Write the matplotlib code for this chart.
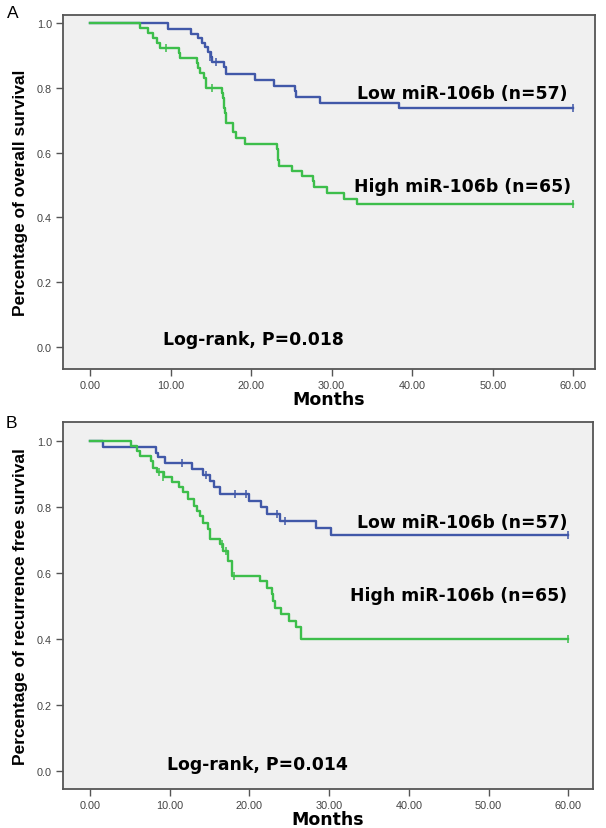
import matplotlib
matplotlib.use("Agg")
import matplotlib.pyplot as plt

plt.rcParams['font.family'] = ['Liberation Sans', 'DejaVu Sans']

# ---------------- data ----------------
# Panel A: overall survival
a_low_t = [0, 9.65, 12.6, 13.45, 13.9, 14.3, 14.6, 15.0, 15.2, 16.6, 16.9, 20.5, 22.8, 25.5, 25.6, 28.5, 38.4, 60]
a_low_s = [1.0, 0.983, 0.967, 0.955, 0.940, 0.925, 0.910, 0.894, 0.879, 0.863, 0.843, 0.825, 0.807, 0.790, 0.772, 0.753, 0.737, 0.737]
a_low_ct = [14.9, 15.6, 60]
a_low_cs = [0.894, 0.879, 0.737]

a_high_t = [0, 6.2, 7.2, 7.8, 8.3, 8.7, 11.0, 11.2, 13.3, 13.45, 13.6, 14.1, 14.4, 14.45,
            16.35, 16.5, 16.6, 16.7, 16.8, 16.9, 17.8, 18.1, 19.3, 23.2, 23.3, 23.4, 23.5,
            25.05, 26.3, 27.7, 27.8, 29.4, 31.5, 33.1, 60]
a_high_s = [1.0, 0.985, 0.969, 0.954, 0.938, 0.923, 0.907, 0.892, 0.876, 0.861, 0.846, 0.830, 0.815, 0.800,
            0.784, 0.768, 0.752, 0.737, 0.721, 0.693, 0.663, 0.645, 0.627, 0.610, 0.594, 0.577, 0.560,
            0.544, 0.528, 0.511, 0.493, 0.475, 0.457, 0.441, 0.441]
a_high_ct = [9.4, 15.2, 60]
a_high_cs = [0.923, 0.800, 0.441]

# Panel B: recurrence free survival
b_low_t = [0, 1.6, 8.3, 8.5, 9.4, 12.75, 14.2, 15.06, 15.5, 16.3, 19.9, 21.5, 22.2, 23.8, 28.4, 30.2, 60]
b_low_s = [1.0, 0.982, 0.965, 0.951, 0.933, 0.915, 0.898, 0.880, 0.860, 0.839, 0.819, 0.799, 0.779, 0.758, 0.738, 0.716, 0.716]
b_low_ct = [11.6, 14.55, 18.2, 19.6, 23.4, 24.5, 60]
b_low_cs = [0.933, 0.898, 0.839, 0.839, 0.779, 0.758, 0.716]

b_high_t = [0, 5.2, 5.9, 6.3, 7.7, 7.9, 8.4, 9.3, 10.25, 11.1, 11.7, 12.3, 13.0, 13.4, 13.8, 14.2,
            14.8, 15.06, 16.3, 16.7, 17.35, 17.8, 21.3, 22.2, 22.8, 23.0, 23.2, 24.0, 25.0, 25.8, 26.5, 60]
b_high_s = [1.0, 0.986, 0.970, 0.954, 0.940, 0.920, 0.905, 0.890, 0.875, 0.860, 0.845, 0.824, 0.804, 0.789, 0.774, 0.753,
            0.733, 0.703, 0.688, 0.667, 0.637, 0.592, 0.577, 0.556, 0.536, 0.515, 0.495, 0.475, 0.455, 0.435, 0.400, 0.400]
b_high_ct = [8.7, 9.1, 16.5, 17.1, 18.0, 60]
b_high_cs = [0.905, 0.890, 0.688, 0.667, 0.592, 0.400]

x_ticks = [0, 10, 20, 30, 40, 50, 60]
x_ticklabels = ["0.00", "10.00", "20.00", "30.00", "40.00", "50.00", "60.00"]
y_ticks = [0.0, 0.2, 0.4, 0.6, 0.8, 1.0]
y_ticklabels = ["0.0", "0.2", "0.4", "0.6", "0.8", "1.0"]

low_label = "Low miR-106b (n=57)"
high_label = "High miR-106b (n=65)"

BLUE = '#4158A8'
GREEN = '#3DBE4B'
BG = '#F0F0F0'
FRAME = '#555555'
WIDE = ['DejaVu Sans']

W, H = 606, 829
fig = plt.figure(figsize=(W / 100, H / 100), dpi=100)


def px_axes(l, t, r, b):
    return fig.add_axes([l / W, 1 - b / H, (r - l) / W, (b - t) / H])


def setup(ax, ylab, xlim, ylim):
    ax.set_facecolor(BG)
    ax.set_xlim(*xlim)
    ax.set_ylim(*ylim)
    for sp in ax.spines.values():
        sp.set_color(FRAME)
        sp.set_linewidth(1.3)
    ax.set_xticks(x_ticks)
    ax.set_xticklabels(x_ticklabels)
    ax.set_yticks(y_ticks)
    ax.set_yticklabels(y_ticklabels)
    ax.tick_params(axis='both', direction='out', length=5, width=1.0, color=FRAME,
                   labelsize=7.8, labelcolor='#444444', pad=3)
    ax.set_xlabel("Months", fontsize=12.5, fontweight='bold', labelpad=0, family=WIDE)
    ax.set_ylabel(ylab, fontsize=12.5, fontweight='bold', labelpad=6)


def draw(ax, t, s, ct, cs, color):
    ax.step(t, s, where='post', color=color, lw=1.7)
    ax.plot(ct, cs, linestyle='none', marker='|', ms=6, mew=1.1, color=color)


TXT = dict(fontsize=12.4, fontweight='bold', family=WIDE, va='center')

# Panel A
axA = px_axes(63, 16, 595, 370)
setup(axA, "Percentage of overall survival", (-3.35, 62.7), (-0.068, 1.025))
draw(axA, a_low_t, a_low_s, a_low_ct, a_low_cs, BLUE)
draw(axA, a_high_t, a_high_s, a_high_ct, a_high_cs, GREEN)
axA.text(59.3, 0.784, low_label, ha='right', **TXT)
axA.text(59.75, 0.497, high_label, ha='right', **TXT)
axA.text(9.1, 0.025, "Log-rank, P=0.018", ha='left', **TXT)

# Panel B
axB = px_axes(63, 423, 593, 790)
setup(axB, "Percentage of recurrence free survival", (-3.39, 63.1), (-0.055, 1.058))
draw(axB, b_low_t, b_low_s, b_low_ct, b_low_cs, BLUE)
draw(axB, b_high_t, b_high_s, b_high_ct, b_high_cs, GREEN)
axB.text(59.85, 0.755, low_label, ha='right', **TXT)
axB.text(59.85, 0.533, high_label, ha='right', **TXT)
axB.text(9.7, 0.021, "Log-rank, P=0.014", ha='left', **TXT)

fig.text(7 / W, 1 - 13 / H, "A", fontsize=12.5, ha='left', va='center')
fig.text(6 / W, 1 - 423 / H, "B", fontsize=12.5, ha='left', va='center')

fig.savefig("out.png", dpi=100, facecolor='white')
